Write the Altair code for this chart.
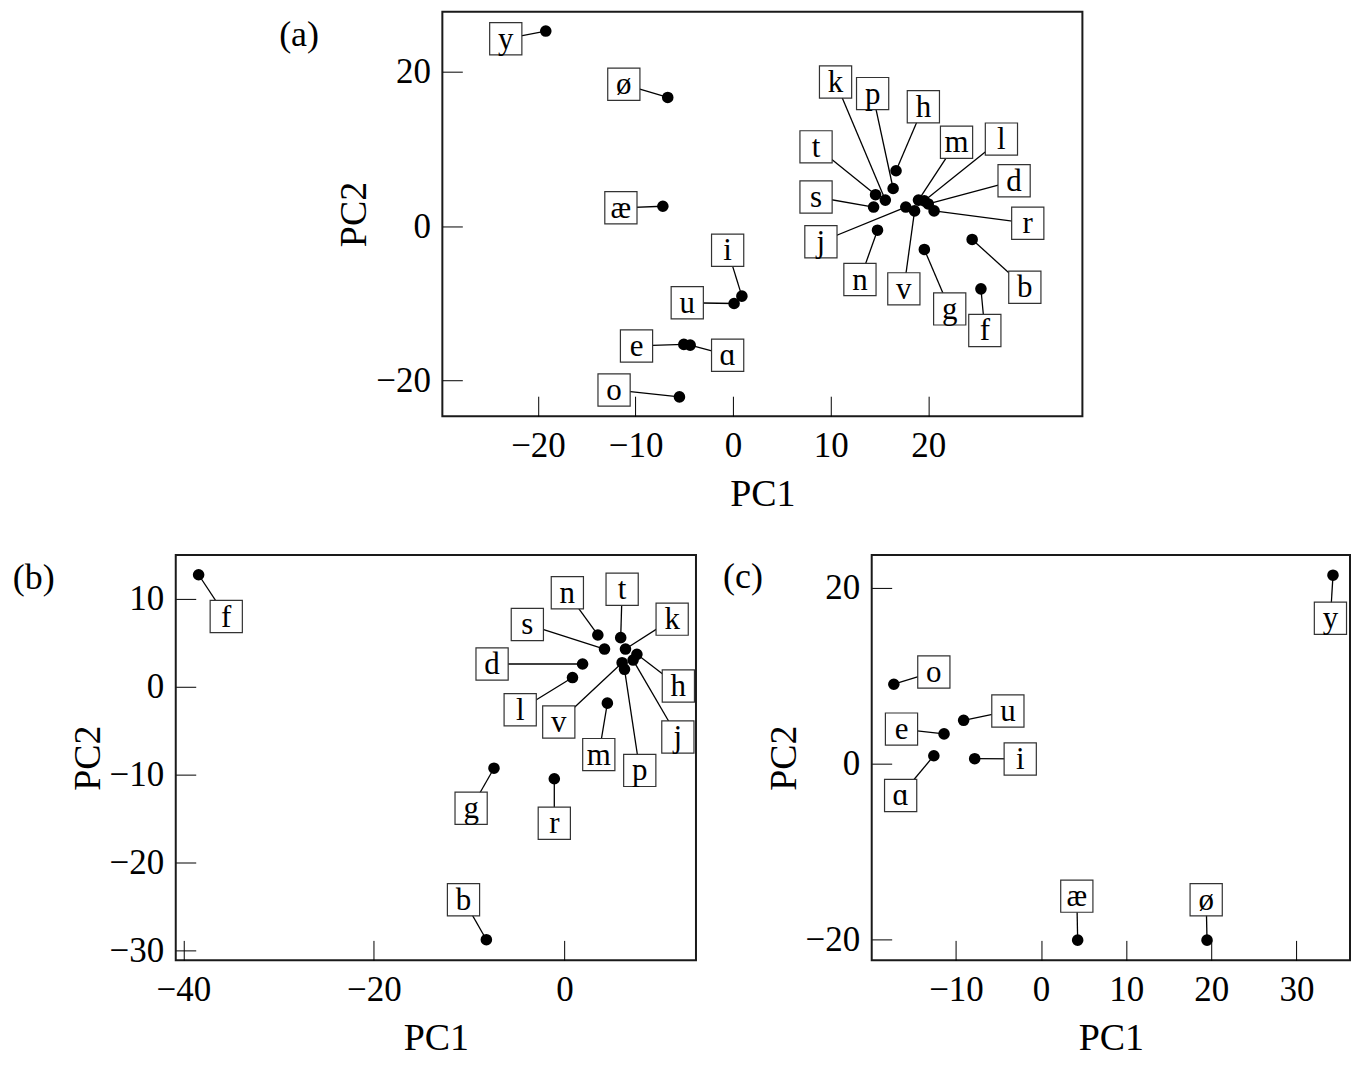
import altair as alt
import pandas as pd

FONT = "Liberation Serif"

# ---------------- Panel (a) ----------------
labels_a = ["y", "ø", "æ", "i", "u", "e", "ɑ", "o", "h", "p", "t", "k", "s",
            "j", "v", "m", "l", "d", "r", "n", "g", "b", "f"]
pc1_a = [-19.2, -6.7, -7.2, 0.9, 0.1, -5.05, -4.4, -5.5, 16.7, 16.4, 14.6, 15.6, 14.4,
         17.7, 18.6, 19.0, 19.6, 20.0, 20.6, 14.8, 19.6, 24.5, 25.4]
pc2_a = [25.3, 16.7, 2.6, -9.05, -10.0, -15.3, -15.4, -22.1, 7.2, 4.9, 4.1, 3.4, 2.5,
         2.5, 2.0, 3.4, 3.3, 2.9, 2.0, -0.5, -3.0, -1.7, -8.1]
labx_a = [-23.3, -11.2, -11.5, -0.56, -4.7, -9.9, -0.56, -12.2, 19.5, 14.3, 8.5, 10.5, 8.5,
          9.0, 17.5, 22.9, 27.5, 28.8, 30.2, 13.0, 22.2, 29.9, 25.8]
laby_a = [24.3, 18.4, 2.4, -3.1, -9.9, -15.5, -16.7, -21.2, 15.5, 17.2, 10.3, 18.7, 3.8,
          -2.0, -8.1, 10.9, 11.3, 5.9, 0.4, -6.9, -10.7, -7.9, -13.5]
xdom_a = [-29.8, 35.8]
ydom_a = [-24.6, 27.8]
xticks_a = [-20, -10, 0, 10, 20]
yticks_a = [-20, 0, 20]

# ---------------- Panel (b) ----------------
labels_b = ["f", "n", "t", "s", "k", "d", "h", "j", "v", "p", "l", "m", "g", "r", "b"]
pc1_b = [-38.4, 3.5, 5.9, 4.2, 6.4, 1.9, 7.6, 7.2, 6.05, 6.3, 0.84, 4.5, -7.4, -1.07, -8.2]
pc2_b = [12.75, 5.9, 5.6, 4.3, 4.3, 2.6, 3.7, 3.05, 2.75, 2.0, 1.06, -1.85, -9.25, -10.45, -28.75]
labx_b = [-35.5, 0.3, 6.05, -3.9, 11.3, -7.6, 11.95, 11.9, -0.6, 7.9, -4.65, 3.6, -9.8, -1.07, -10.6]
laby_b = [8.0, 10.7, 11.1, 7.1, 7.7, 2.6, 0.1, -5.7, -4.0, -9.5, -2.6, -7.7, -13.8, -15.5, -24.2]
xdom_b = [-40.8, 13.8]
ydom_b = [-31.1, 15.0]
xticks_b = [-40, -20, 0]
yticks_b = [-30, -20, -10, 0, 10]

# ---------------- Panel (c) ----------------
labels_c = ["y", "o", "u", "e", "ɑ", "i", "æ", "ø"]
pc1_c = [34.3, -17.3, -9.1, -11.4, -12.6, -7.8, 4.3, 19.5]
pc2_c = [21.4, 9.0, 4.9, 3.35, 0.87, 0.53, -20.1, -20.1]
labx_c = [34.0, -12.6, -3.9, -16.4, -16.5, -2.45, 4.2, 19.4]
laby_c = [16.5, 10.4, 5.95, 3.9, -3.65, 0.5, -15.1, -15.5]
xdom_c = [-19.9, 36.3]
ydom_c = [-22.4, 23.7]
xticks_c = [-10, 0, 10, 20, 30]
yticks_c = [-20, 0, 20]


def make_axis(values, title, title_pad):
    return alt.Axis(values=values, title=title, format="d", offset=-20, tickSize=20,
                    labelPadding=12, titlePadding=title_pad, domain=False, grid=False,
                    labelFlush=False, labelOverlap=False)


def make_panel(labels, pc1, pc2, lab_x, lab_y, xdom, ydom, xticks, yticks,
               tag, tag_x, tag_y, w, h, pad_x):
    pts = pd.DataFrame({"lab": labels, "pc1": pc1, "pc2": pc2, "lx": lab_x, "ly": lab_y})
    xs = alt.Scale(domain=xdom, nice=False, zero=False)
    ys = alt.Scale(domain=ydom, nice=False, zero=False)
    xa = make_axis(xticks, "PC1", 12)
    ya = make_axis(yticks, "PC2", 2)
    base = alt.Chart(pts)
    rules = base.mark_rule(color="black", strokeWidth=1.3).encode(
        x=alt.X("pc1:Q", scale=xs, axis=xa),
        y=alt.Y("pc2:Q", scale=ys, axis=ya),
        x2="lx:Q", y2="ly:Q")
    boxes = base.mark_square(size=1040, fill="white", stroke="#333333",
                             strokeWidth=1.2, opacity=1).encode(
        x=alt.X("lx:Q", scale=xs, axis=xa),
        y=alt.Y("ly:Q", scale=ys, axis=ya))
    texts = base.mark_text(font=FONT, fontSize=31, baseline="alphabetic", dy=10,
                           color="black").encode(
        x=alt.X("lx:Q", scale=xs, axis=xa),
        y=alt.Y("ly:Q", scale=ys, axis=ya),
        text="lab:N")
    dots = base.mark_circle(size=135, color="black", opacity=1).encode(
        x=alt.X("pc1:Q", scale=xs, axis=xa),
        y=alt.Y("pc2:Q", scale=ys, axis=ya))
    tagc = alt.Chart(pd.DataFrame({"t": [tag]})).mark_text(
        font=FONT, fontSize=36, align="center", baseline="middle", color="black").encode(
        x=alt.value(tag_x), y=alt.value(tag_y), text="t:N")
    padc = alt.Chart(pd.DataFrame({"t": ["."]})).mark_text(
        font=FONT, fontSize=10, align="left", baseline="middle", color="white").encode(
        x=alt.value(pad_x), y=alt.value(h / 2), text="t:N")
    return alt.layer(rules, boxes, texts, dots, tagc, padc).properties(width=w, height=h)


panel_a = make_panel(labels_a, pc1_a, pc2_a, labx_a, laby_a, xdom_a, ydom_a,
                     xticks_a, yticks_a, "(a)", -143.5, 23, 641, 405, -170)
panel_b = make_panel(labels_b, pc1_b, pc2_b, labx_b, laby_b, xdom_b, ydom_b,
                     xticks_b, yticks_b, "(b)", -142.3, 23, 521, 406, -167)
panel_c = make_panel(labels_c, pc1_c, pc2_c, labx_c, laby_c, xdom_c, ydom_c,
                     xticks_c, yticks_c, "(c)", -129, 22, 479, 406, -152)

spacer = alt.Chart(pd.DataFrame({"v": [0]})).mark_point(opacity=0).encode(
    x=alt.value(0), y=alt.value(0)
).properties(width=96, height=10, view=alt.ViewBackground(strokeOpacity=0))

chart = alt.vconcat(
    alt.hconcat(spacer, panel_a, spacing=0),
    alt.hconcat(panel_b, panel_c, spacing=21),
    spacing=40,
).properties(padding=0).configure_view(
    stroke="#1a1a1a", strokeWidth=2
).configure_axis(
    labelFont=FONT, labelFontSize=35, titleFont=FONT, titleFontSize=38,
    titleFontWeight="normal", labelColor="black", titleColor="black",
    tickColor="black", tickWidth=1
)

chart.save("out.html", embed_options={"renderer": "svg", "actions": False})
